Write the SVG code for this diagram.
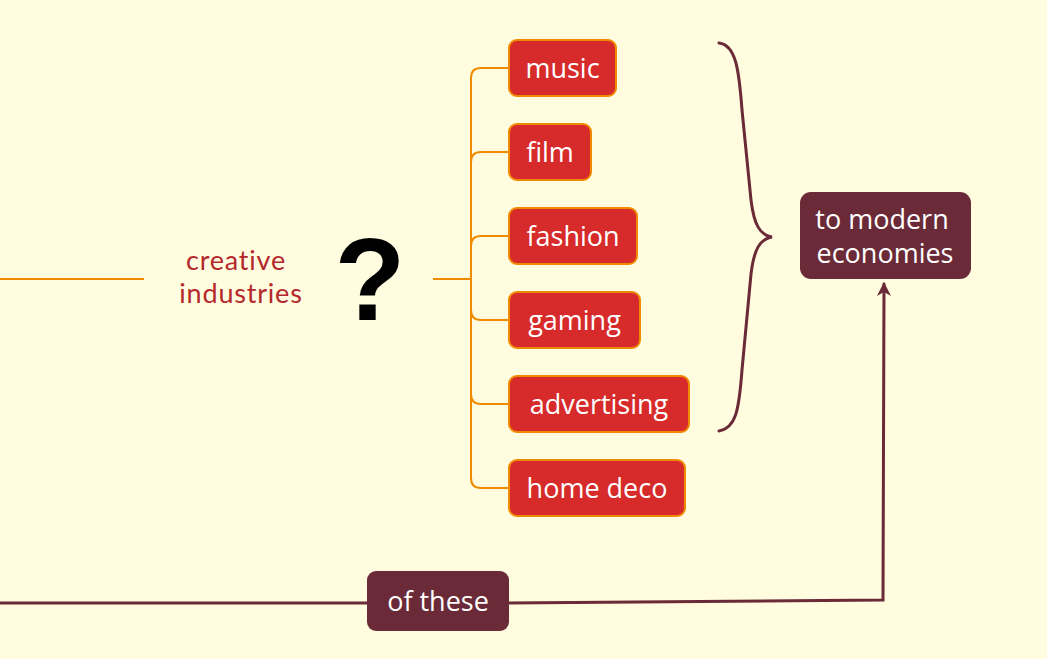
<svg xmlns="http://www.w3.org/2000/svg" width="1047" height="659" viewBox="0 0 1047 659">
<defs>
<style>
.bg{fill:#fffcdf}
.or{fill:none;stroke:#f08a00;stroke-width:2}
.mar{fill:none;stroke:#6b2a37;stroke-width:3;stroke-linecap:round}
.red rect{fill:#d72a2a;stroke:#f08a00;stroke-width:2}
.dark rect{fill:#6b2a38}
text{font-family:"Open Sans","Liberation Sans",sans-serif;font-size:27px}
.red text,.dark text{fill:#ffffff}
.lbl{fill:#b5282b;font-family:Lato,"Open Sans",sans-serif;letter-spacing:0.8px}
</style>
<marker id="ah" markerWidth="16" markerHeight="16" refX="12" refY="8" orient="auto" markerUnits="userSpaceOnUse">
<path d="M0,1 L14,8 L0,15 L4,8 Z" fill="#6b2a37"/>
</marker>
</defs>
<rect class="bg" x="0" y="0" width="1047" height="659"/>
<g id="connectors">
<path class="or" d="M0,279 H144"/>
<path class="or" d="M433,279 H471"/>
<path class="or" d="M471,78 V478"/>
<path class="or" d="M509,68 H481 Q471,68 471,78"/>
<path class="or" d="M509,152 H481 Q471,152 471,162"/>
<path class="or" d="M509,236 H481 Q471,236 471,246"/>
<path class="or" d="M509,320 H481 Q471,320 471,310"/>
<path class="or" d="M509,404 H481 Q471,404 471,394"/>
<path class="or" d="M509,488 H481 Q471,488 471,478"/>
<path class="mar" d="M719,43 C736,45 739,70 742,110 L751,200 C754,225 760,235 772,237 C760,239 754,249 751,274 L742,370 C739,410 736,428 719,431"/>
<path class="mar" d="M0,603 H367"/>
<path class="mar" stroke-linecap="butt" d="M509,603 L883,600 L884,284" marker-end="url(#ah)"/>
</g>
<g id="creative">
<text class="lbl" text-anchor="middle"><tspan x="236" y="270">creative</tspan><tspan x="241" y="303">industries</tspan></text>
</g>
<g id="question">
<text x="370" y="320" text-anchor="middle" style="font-family:'Liberation Sans',Arial,sans-serif;font-weight:bold;font-size:116px;fill:#000">?</text>
</g>
<g id="music" class="red"><rect x="509" y="40" width="107" height="56" rx="8"/><text x="562.5" y="78" text-anchor="middle">music</text></g>
<g id="film" class="red"><rect x="509" y="124" width="82" height="56" rx="8"/><text x="550" y="162" text-anchor="middle">film</text></g>
<g id="fashion" class="red"><rect x="509" y="208" width="128" height="56" rx="8"/><text x="573" y="246" text-anchor="middle">fashion</text></g>
<g id="gaming" class="red"><rect x="509" y="292" width="131" height="56" rx="8"/><text x="574.5" y="330" text-anchor="middle">gaming</text></g>
<g id="advertising" class="red"><rect x="509" y="376" width="180" height="56" rx="8"/><text x="599" y="414" text-anchor="middle">advertising</text></g>
<g id="homedeco" class="red"><rect x="509" y="460" width="176" height="56" rx="8"/><text x="597" y="498" text-anchor="middle">home deco</text></g>
<g id="economies" class="dark"><rect x="800" y="192" width="171" height="87" rx="11"/><text text-anchor="middle"><tspan x="882" y="229">to modern</tspan><tspan x="885" y="263">economies</tspan></text></g>
<g id="ofthese" class="dark"><rect x="367" y="571" width="142" height="60" rx="9"/><text x="438" y="611" text-anchor="middle">of these</text></g>
</svg>
